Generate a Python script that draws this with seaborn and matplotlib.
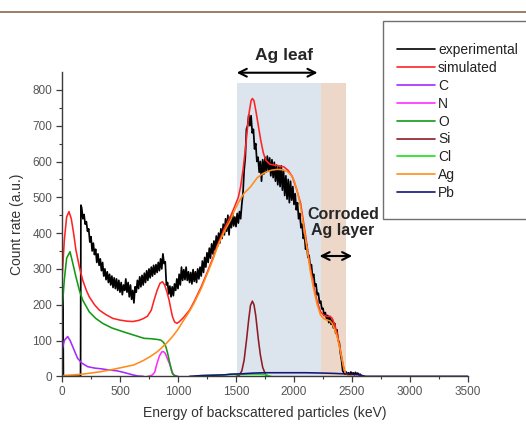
import numpy as np
import pandas as pd
import matplotlib
matplotlib.use("Agg")
import matplotlib.pyplot as plt
from matplotlib.lines import Line2D
from matplotlib.patches import Rectangle
import seaborn as sns

# ---------------- data ----------------
exp_E = [0, 3, 8, 12, 160, 163, 170, 180, 190, 200,
         210, 220, 230, 240, 250, 260, 270, 280, 290, 300, 310, 320, 330, 340, 350, 360, 370, 380, 390, 400,
         410, 420, 430, 440, 450, 460, 470, 480, 490, 500, 510, 520, 530, 540, 550, 560, 570, 580, 590, 600,
         610, 620, 630, 640, 650, 660, 670, 680, 690, 700, 710, 720, 730, 740, 750, 760, 770, 780, 790, 800,
         810, 820, 830, 840, 850, 860, 870, 880, 890, 900, 910, 920, 930, 940, 950, 960, 970, 980, 990, 1000,
         1010, 1020, 1030, 1040, 1050, 1060, 1070, 1080, 1090, 1100, 1110, 1120, 1130, 1140, 1150, 1160, 1170, 1180, 1190, 1200,
         1210, 1220, 1230, 1240, 1250, 1260, 1270, 1280, 1290, 1300, 1310, 1320, 1330, 1340, 1350, 1360, 1370, 1380, 1390, 1400,
         1410, 1420, 1430, 1440, 1450, 1460, 1470, 1480, 1490, 1500, 1510, 1520, 1530, 1540, 1550, 1560, 1570, 1580, 1590, 1600,
         1610, 1620, 1630, 1640, 1650, 1660, 1670, 1680, 1690, 1700, 1710, 1720, 1730, 1740, 1750, 1760, 1770, 1780, 1790, 1800,
         1810, 1820, 1830, 1840, 1850, 1860, 1870, 1880, 1890, 1900, 1910, 1920, 1930, 1940, 1950, 1960, 1970, 1980, 1990, 2000,
         2010, 2020, 2030, 2040, 2050, 2060, 2070, 2080, 2090, 2100, 2110, 2120, 2130, 2140, 2150, 2160, 2170, 2180, 2190, 2200,
         2210, 2220, 2230, 2240, 2250, 2260, 2270, 2280, 2290, 2300, 2310, 2320, 2330, 2340, 2350, 2360, 2370, 2380, 2390, 2400,
         2410, 2420, 2430, 2440, 2450, 2460, 2470, 2480, 2490, 2500, 2510, 2520, 2530, 2540, 2550, 2560, 2570, 2580, 2600]
exp_V = [0, 250, 250, 0, 0, 478, 470, 440, 452, 425,
         432, 405, 412, 375, 390, 350, 372, 340, 355, 318, 342, 310, 328, 295, 318, 280, 300, 270, 292, 262,
         285, 255, 280, 248, 275, 245, 272, 240, 268, 235, 262, 228, 255, 240, 272, 235, 262, 222, 255, 215,
         240, 205, 250, 235, 268, 245, 278, 250, 282, 255, 288, 262, 295, 268, 300, 275, 305, 280, 310, 285,
         312, 290, 318, 295, 328, 300, 342, 315, 320, 255, 262, 230, 252, 222, 250, 225, 258, 240, 272, 245,
         285, 255, 305, 268, 298, 270, 305, 268, 292, 262, 290, 258, 298, 265, 292, 262, 300, 272, 305, 280,
         322, 290, 332, 305, 345, 318, 358, 330, 370, 342, 378, 352, 392, 362, 400, 372, 412, 385, 425, 395,
         440, 405, 450, 395, 445, 415, 455, 420, 445, 418, 455, 428, 460, 440, 480, 510, 575, 610, 690, 700,
         730, 700, 728, 680, 690, 635, 650, 600, 612, 570, 600, 545, 605, 565, 612, 570, 615, 575, 610, 560,
         605, 555, 598, 545, 590, 535, 585, 530, 588, 520, 575, 505, 560, 495, 550, 485, 545, 492, 530, 480,
         510, 465, 485, 440, 455, 415, 425, 385, 395, 355, 368, 332, 338, 305, 312, 278, 285, 252, 258, 228,
         232, 205, 210, 188, 190, 170, 178, 162, 170, 150, 165, 145, 158, 135, 148, 120, 130, 100, 95, 65,
         45, 15, 10, 6, 12, 5, 10, 4, 12, 6, 10, 4, 11, 5, 9, 3, 6, 0, 0]

sim_E = [0, 20, 40, 60, 80, 100, 120, 150, 178, 210, 235, 280, 321, 380, 436, 500, 560, 608, 660, 700,
         737, 770, 794, 820, 845, 866, 885, 905, 923, 940, 952, 970, 990, 1010, 1050, 1100, 1138, 1200, 1254, 1300,
         1340, 1400, 1454, 1483, 1520, 1540, 1560, 1583, 1610, 1630, 1641, 1655, 1670, 1690, 1713, 1735, 1756, 1790, 1827, 1870,
         1913, 1950, 1985, 2020, 2057, 2085, 2114, 2140, 2171, 2200, 2229, 2260, 2286, 2310, 2329, 2350, 2372, 2395, 2415, 2430,
         2444, 2470, 2500, 2600]
sim_V = [270, 380, 445, 460, 440, 400, 353, 305, 269, 240, 222, 200, 185, 172, 162, 157, 154, 153, 156, 161,
         168, 185, 213, 240, 260, 264, 255, 235, 213, 185, 167, 152, 148, 152, 165, 185, 208, 250, 292, 330,
         366, 413, 448, 470, 500, 530, 575, 641, 730, 770, 776, 770, 744, 705, 660, 625, 604, 593, 590, 588,
         585, 575, 558, 525, 483, 425, 362, 305, 250, 208, 180, 170, 167, 168, 162, 145, 120, 82, 46, 22,
         8, 2, 0, 0]

C_E = [0, 20, 49, 70, 92, 115, 135, 170, 221, 280, 336, 400, 479, 530, 565, 610, 651, 700]
C_V = [73, 100, 111, 100, 83, 65, 50, 37, 27, 23, 21, 18, 15, 11, 8, 4, 1, 0]

N_E = [740, 760, 780, 800, 818, 840, 860, 875, 890, 910, 927, 945, 960, 980, 1000]
N_V = [0, 1, 4, 12, 35, 57, 68, 69, 64, 48, 35, 16, 5, 1, 0]

O_E = [0, 20, 40, 69, 90, 120, 150, 178, 235, 290, 350, 430, 522, 600, 708, 766, 820, 852, 875, 895,
       910, 923, 940, 952, 970, 990]
O_V = [180, 270, 330, 348, 320, 278, 240, 213, 180, 162, 148, 135, 125, 117, 106, 105, 103, 101, 95, 83,
       65, 46, 22, 8, 2, 0]

Si_E = [1500, 1526, 1550, 1570, 1592, 1610, 1625, 1641, 1655, 1670, 1692, 1710, 1730, 1756, 1780]
Si_V = [0, 2, 15, 45, 105, 160, 198, 210, 200, 170, 105, 60, 25, 4, 0]

Cl_E = [1150, 1200, 1300, 1400, 1500, 1600, 1700, 1760, 1780, 1800]
Cl_V = [0, 2, 3, 4, 5, 6, 6, 5, 1, 0]

Ag_E = [0, 100, 200, 336, 450, 550, 622, 700, 760, 823, 900, 950, 995, 1050, 1100, 1138, 1200, 1254, 1300, 1340,
        1400, 1454, 1483, 1520, 1569, 1627, 1684, 1730, 1770, 1810, 1856, 1900, 1942, 1975, 2000, 2030, 2057, 2085, 2114, 2140,
        2171, 2200, 2229, 2260, 2286, 2310, 2329, 2350, 2372, 2395, 2415, 2430, 2444, 2470, 2500]
Ag_V = [2, 4, 7, 13, 20, 27, 32, 44, 55, 69, 92, 110, 129, 157, 182, 204, 245, 288, 325, 362,
        405, 437, 460, 485, 511, 530, 555, 566, 572, 576, 578, 577, 572, 562, 548, 515, 474, 415, 353, 295,
        241, 200, 171, 160, 157, 155, 148, 132, 111, 78, 46, 22, 8, 2, 0]

Pb_E = [1100, 1200, 1300, 1400, 1450, 1550, 1650, 1750, 1900, 2100, 2250, 2350, 2420, 2500, 2560, 2600, 2620, 3500]
Pb_V = [0, 2, 3, 4, 6, 7, 9, 10, 10, 10, 9, 8, 7, 6, 5, 1, 0, 0]

series = [
    ("experimental", exp_E, exp_V, "#000000"),
    ("simulated", sim_E, sim_V, "#ff2424"),
    ("C", C_E, C_V, "#a52aff"),
    ("N", N_E, N_V, "#ff2cff"),
    ("O", O_E, O_V, "#139a13"),
    ("Si", Si_E, Si_V, "#8e1c24"),
    ("Cl", Cl_E, Cl_V, "#1adf1a"),
    ("Ag", Ag_E, Ag_V, "#ff8c1a"),
    ("Pb", Pb_E, Pb_V, "#14147a"),
]

x_ticks = [0, 500, 1000, 1500, 2000, 2500, 3000, 3500]
y_ticks = [0, 100, 200, 300, 400, 500, 600, 700, 800]

# ---------------- style ----------------
sns.set_theme(style="ticks")
plt.rcParams['font.family'] = ['Liberation Sans', 'DejaVu Sans']

fig = plt.figure(figsize=(5.26, 4.37), dpi=100)
ax = fig.add_axes([62 / 526, (437 - 376.3) / 437, 406 / 526, 304.3 / 437])

# shaded regions
ax.axvspan(1510, 2230, ymin=0, ymax=818 / 850, color="#dce4ee", lw=0, zorder=0)
ax.axvspan(2230, 2445, ymin=0, ymax=818 / 850, color="#ecd7c9", lw=0, zorder=0)

for name, E, V, col in series:
    df = pd.DataFrame({"E": E, "V": V})
    lw = 1.25 if name == "experimental" else 1.15
    sns.lineplot(data=df, x="E", y="V", ax=ax, color=col, lw=lw, sort=False,
                 estimator=None, label=name, legend=False)

ax.set_xlim(0, 3500)
ax.set_ylim(0, 850)
ax.set_xticks(x_ticks)
ax.set_yticks(y_ticks)
ax.set_xticks(np.arange(250, 3500, 500), minor=True)
ax.set_yticks(np.arange(50, 850, 100), minor=True)

for s in ["top", "right"]:
    ax.spines[s].set_visible(False)
for s in ["left", "bottom"]:
    ax.spines[s].set_color("#3a3a3a")
    ax.spines[s].set_linewidth(1.0)

ax.tick_params(axis="both", which="major", direction="out", length=4, width=0.9,
               color="#3a3a3a", labelsize=8.5, labelcolor="#555555", pad=3)
ax.tick_params(axis="both", which="minor", direction="out", length=2.5, width=0.8,
               color="#3a3a3a")

ax.set_xlabel("Energy of backscattered particles (keV)", fontsize=10, color="#333333", labelpad=6)
ax.set_ylabel("Count rate (a.u.)", fontsize=10, color="#333333", labelpad=6)

# annotations
ax.annotate("", xy=(1506, 848), xytext=(2203, 848), annotation_clip=False,
            arrowprops=dict(arrowstyle="<->", color="black", lw=1.5, shrinkA=0, shrinkB=0,
                            mutation_scale=14))
ax.text(1910, 897, "Ag leaf", fontsize=12.5, fontweight="bold", ha="center", va="center",
        clip_on=False)
ax.annotate("", xy=(2220, 336), xytext=(2502, 336),
            arrowprops=dict(arrowstyle="<->", color="black", lw=1.5, shrinkA=0, shrinkB=0,
                            mutation_scale=14))
ax.text(2422, 430, "Corroded\nAg layer", fontsize=11.5, fontweight="bold", ha="center",
        va="center", linespacing=1.1)

# legend box (extends past the right edge in the reference)
box = Rectangle((382.7 / 526, 1 - 219 / 437), (535 - 382.7) / 526, (219 - 21) / 437,
                transform=fig.transFigure, facecolor="white", edgecolor="#707070", lw=1.0,
                zorder=5)
fig.add_artist(box)
handles = [Line2D([0], [0], color=c, lw=1.2) for _, _, _, c in series]
labels = [n for n, _, _, _ in series]
leg = fig.legend(handles, labels, loc="upper left", bbox_to_anchor=(397 / 526, 1 - 43 / 437),
                 frameon=False, fontsize=10, handlelength=2.75, handletextpad=0.2,
                 labelspacing=0.28, borderpad=0, borderaxespad=0)
leg.set_zorder(6)
for t in leg.get_texts():
    t.set_color("#222222")

# thin brown rule at the top of the figure
fig.add_artist(Line2D([0, 1], [1 - 12 / 437, 1 - 12 / 437], transform=fig.transFigure,
                      color="#8b6a50", lw=1.2))

fig.savefig("out.png", dpi=100)
